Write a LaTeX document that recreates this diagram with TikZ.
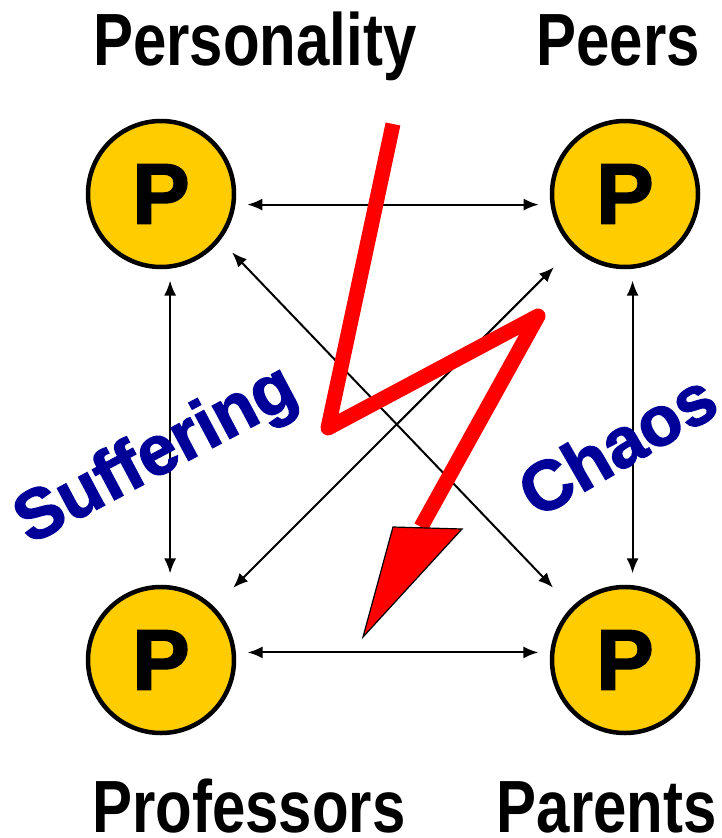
\documentclass[tikz,border=0pt]{standalone}
\usepackage{fontspec}
\usepackage{tikz}
\usepackage{xcolor}
\usetikzlibrary{arrows.meta,positioning}
\setmainfont{Liberation Sans}
\newfontfamily\heavyfont{Liberation Sans Bold}[FakeBold=2]
\definecolor{pyellow}{HTML}{FFCC00}
\definecolor{moodblue}{HTML}{000099}
\definecolor{boltred}{HTML}{FF0000}
\tikzset{
  pnode/.style={circle,draw=black,fill=pyellow,line width=4.5pt,
                minimum size=146pt,inner sep=0pt,outer sep=14pt,
                font=\fontsize{86}{86}\selectfont\heavyfont},
  titletext/.style={inner sep=0pt,font=\fontsize{74}{80}\selectfont\bfseries},
  moodtext/.style={inner sep=0pt,text=moodblue,font=\fontsize{70}{74}\selectfont\heavyfont},
  linkarr/.style={{Latex[length=15pt,width=12pt]}-{Latex[length=15pt,width=12pt]},line width=2pt},
  boltline/.style={draw=boltred,line width=15pt,line join=round,line cap=butt}
}
\newcommand{\narrow}[1]{\scalebox{0.81}[1]{#1}}

\begin{document}
\begin{tikzpicture}[x=1pt,y=-1pt]
  \useasboundingbox (0,0) rectangle (721,838);

  % the four P's
  \node[pnode] (tl) at (161,194) {P};
  \node[pnode] (tr) at (625,194) {P};
  \node[pnode] (bl) at (161,660) {P};
  \node[pnode] (br) at (625,660) {P};

  % names of the P's
  \node[titletext,anchor=base west] (personality) at (93,65) {\narrow{Personality}};
  \node[titletext,anchor=base east] (peers) at (700,65) {\narrow{Peers}};
  \node[titletext,anchor=base west] (professors) at (92,832) {\narrow{Professors}};
  \node[titletext,anchor=base east] (parents) at (717,832) {\narrow{Parents}};

  % links between every pair
  \draw[linkarr] (tl.-7) -- (tr.-173);
  \draw[linkarr] (bl.5) -- (br.175);
  \draw[linkarr] (tl.-84) -- (bl.84);
  \draw[linkarr] (tr.-85) -- (br.85);
  \draw[linkarr,shorten <=5pt,shorten >=15pt] (tl.-39) -- (br.135);
  \draw[linkarr,shorten <=15pt,shorten >=15pt] (tr.-134) -- (bl.45);

  % the lightning bolt
  \coordinate (bolt0) at (393,124);
  \coordinate (bolt1) at (328,428);
  \coordinate (bolt2) at (538,316);
  \coordinate (bolt3) at (421,527);
  \draw[boltline] (bolt0) -- (bolt1) -- (bolt2) -- (bolt3);
  \draw[fill=boltred,draw=black,line width=1.2pt,line join=miter]
    (393,527) -- (462,529) -- (363,637) -- cycle;

  % moods
  \node[moodtext,rotate=28] (suffering) at (157,457) {Suffering};
  \node[moodtext,rotate=30] (chaos) at (617,444) {Chaos};
\end{tikzpicture}
\end{document}
